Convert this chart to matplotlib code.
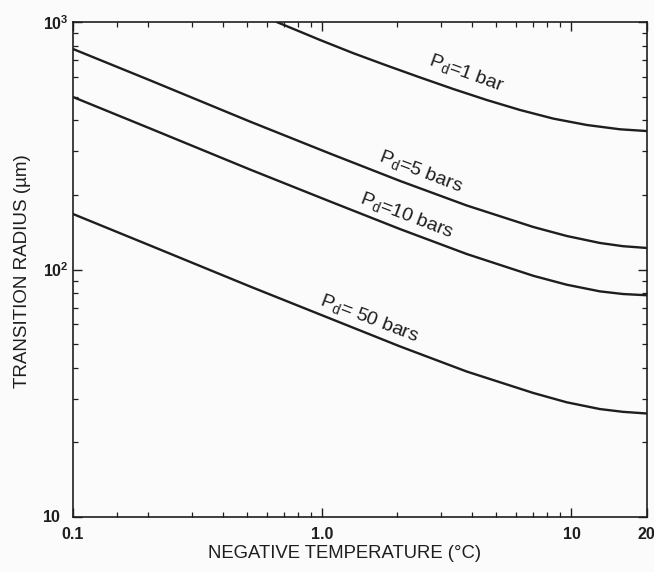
import matplotlib
matplotlib.use("Agg")
import matplotlib.pyplot as plt
from matplotlib.ticker import FixedLocator, NullFormatter
from matplotlib.transforms import ScaledTranslation

plt.rcParams['font.family'] = ['Liberation Sans', 'DejaVu Sans']
plt.rcParams['mathtext.fontset'] = 'custom'
plt.rcParams['mathtext.rm'] = 'Liberation Sans'
plt.rcParams['mathtext.it'] = 'Liberation Sans:italic'
plt.rcParams['mathtext.bf'] = 'Liberation Sans:bold'
plt.rcParams['mathtext.default'] = 'regular'

# ---- data ----
t_1bar = [0.657, 0.98, 1.333, 1.815, 2.469, 3.358, 4.572, 6.22, 8.46, 11.52, 15.67, 20.0]
r_1bar = [1000, 846, 748, 667, 597, 536, 484, 441, 407, 383.6, 368.5, 362.7]

t_grid = [0.1, 0.204, 0.513, 1.075, 2.05, 3.80, 7.03, 9.57, 13.0, 16.1, 20.0]
r_5bar = [778, 581, 396, 294, 228, 181.4, 148.5, 136.6, 128, 124.2, 122.2]
r_10bar = [497.7, 371.3, 253.5, 188.3, 145.7, 115.5, 94.3, 86.8, 81.6, 79.6, 78.7]
r_50bar = [167.6, 125.0, 85.4, 63.4, 48.9, 38.7, 31.7, 29.07, 27.3, 26.6, 26.2]

curve_labels = [r'$P_d$=1 bar', r'$P_d$=5 bars', r'$P_d$=10 bars', r'$P_d$= 50 bars']

x_ticks = [0.1, 1.0, 10, 20]
x_ticklabels = ['0.1', '1.0', '10', '20']
x_minor = [0.15, 0.2, 0.3, 0.4, 0.5, 0.6, 0.7, 0.8, 0.9, 2, 3, 4, 5, 6, 7, 8, 9]
y_ticks = [10, 100, 1000]
y_ticklabels = [r'$\mathbf{10}$', r'$\mathbf{10^2}$', r'$\mathbf{10^3}$']
y_minor = [20, 30, 40, 50, 60, 70, 80, 90, 200, 300, 400, 500, 600, 700, 800, 900]

ink = '#1e1e1e'
bg = '#fbfbfb'

fig = plt.figure(figsize=(6.54, 5.72), dpi=100, facecolor=bg)
ax = fig.add_axes([73/654, 1 - 517/572, 573.5/654, 495/572], facecolor=bg)

series = [(t_1bar, r_1bar), (t_grid, r_5bar), (t_grid, r_10bar), (t_grid, r_50bar)]
for t, r in series:
    ax.plot(t, r, color=ink, lw=1.7, solid_joinstyle='round')

ax.set_xscale('log')
ax.set_yscale('log')
ax.set_xlim(0.1, 20)
ax.set_ylim(10, 1000)

ax.xaxis.set_major_locator(FixedLocator(x_ticks))
ax.set_xticklabels(x_ticklabels)
ax.xaxis.set_minor_locator(FixedLocator(x_minor))
ax.xaxis.set_minor_formatter(NullFormatter())
ax.yaxis.set_major_locator(FixedLocator(y_ticks))
ax.set_yticklabels(y_ticklabels)
ax.yaxis.set_minor_locator(FixedLocator(y_minor))
ax.yaxis.set_minor_formatter(NullFormatter())

ax.tick_params(which='both', direction='in', top=True, right=True, color=ink,
               labelcolor=ink)
ax.tick_params(which='major', length=6.5, width=1.0, labelsize=11.5)
ax.tick_params(axis='x', which='major', pad=7)
ax.tick_params(axis='y', which='major', pad=3)
ax.tick_params(which='minor', length=3.6, width=0.9)
for lab in ax.get_xticklabels():
    lab.set_fontweight('bold')
for sp in ax.spines.values():
    sp.set_linewidth(1.2)
    sp.set_color(ink)

# the bottom "10" label sits a little further left and higher, as in the reference
t0 = ax.yaxis.get_major_ticks()[0]
t0.label1.set_transform(t0.label1.get_transform() +
                        ScaledTranslation(-0.08, 0.02, fig.dpi_scale_trans))

ax.set_xlabel('NEGATIVE TEMPERATURE (°C)', fontsize=13.3, color=ink)
ax.xaxis.set_label_coords(0.474, -0.057)
ax.set_ylabel('TRANSITION RADIUS (µm)', fontsize=13.5, color=ink)
ax.yaxis.set_label_coords(-0.073, 0.496)

label_pos = [(3.78, 622, -20), (2.49, 248, -21), (2.19, 166, -21), (1.54, 63.7, -21)]
for txt, (lx, ly, rot) in zip(curve_labels, label_pos):
    ax.text(lx, ly, txt, fontsize=14, color=ink, rotation=rot,
            ha='center', va='center', rotation_mode='anchor')

fig.savefig('out.png', dpi=100, facecolor=bg)
